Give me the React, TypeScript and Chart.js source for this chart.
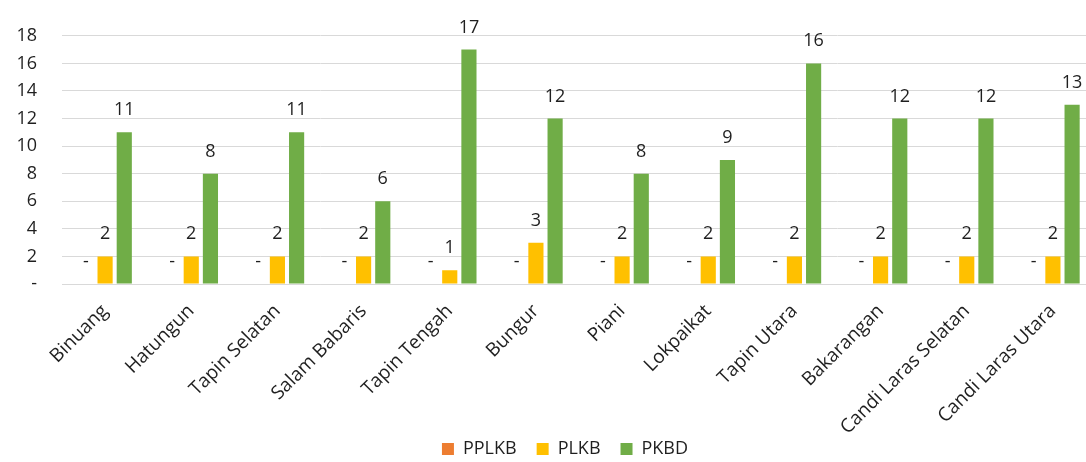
import React, { useEffect, useRef } from "react";
import { Chart, registerables } from "chart.js";

Chart.register(...registerables);

const categories = [
  "Binuang",
  "Hatungun",
  "Tapin Selatan",
  "Salam Babaris",
  "Tapin Tengah",
  "Bungur",
  "Piani",
  "Lokpaikat",
  "Tapin Utara",
  "Bakarangan",
  "Candi Laras Selatan",
  "Candi Laras Utara",
];
const pplkbValues = [0, 0, 0, 0, 0, 0, 0, 0, 0, 0, 0, 0];
const plkbValues = [2, 2, 2, 2, 1, 3, 2, 2, 2, 2, 2, 2];
const pkbdValues = [11, 8, 11, 6, 17, 12, 8, 9, 16, 12, 12, 13];
const yTickValues = [0, 2, 4, 6, 8, 10, 12, 14, 16, 18];

const FONT = "'Open Sans', 'DejaVu Sans', sans-serif";
const TEXT = "#1f1f1f";

const dataLabelPlugin = {
  id: "dataLabels",
  afterDatasetsDraw(chart: any) {
    const ctx = chart.ctx;
    ctx.save();
    ctx.font = `18px ${FONT}`;
    ctx.fillStyle = TEXT;
    ctx.textAlign = "center";
    ctx.textBaseline = "alphabetic";
    chart.data.datasets.forEach((ds: any, di: number) => {
      const meta = chart.getDatasetMeta(di);
      meta.data.forEach((el: any, i: number) => {
        const v = ds.data[i];
        const txt = v === 0 ? "-" : String(v);
        ctx.fillText(txt, el.x, el.y - 17);
      });
    });
    ctx.restore();
  },
};

// move the legend box to where it sits in the reference
const legendPlacePlugin = {
  id: "legendPlace",
  afterLayout(chart: any) {
    const lg = chart.legend;
    if (!lg) return;
    lg.top = 420;
    lg.bottom = 462;
    lg.height = 42;
    lg.left = 34;
  },
};

export default function App() {
  const ref = useRef<HTMLCanvasElement | null>(null);

  useEffect(() => {
    document.body.style.margin = "0";
    if (!ref.current) return;
    const chart = new Chart(ref.current, {
      type: "bar",
      data: {
        labels: categories,
        datasets: [
          { label: "PPLKB", data: pplkbValues, backgroundColor: "#ED7D31" },
          { label: "PLKB", data: plkbValues, backgroundColor: "#FFC000" },
          { label: "PKBD", data: pkbdValues, backgroundColor: "#70AD47" },
        ],
      },
      options: {
        animation: false,
        responsive: false,
        maintainAspectRatio: false,
        datasets: {
          bar: { categoryPercentage: 0.668, barPercentage: 0.79 },
        },
        layout: { padding: { top: 32, left: 0, right: 4, bottom: 0 } },
        plugins: {
          tooltip: { enabled: false },
          legend: {
            position: "bottom",
            maxHeight: 20,
            labels: {
              boxWidth: 12,
              boxHeight: 12,
              padding: 20,
              color: TEXT,
              font: { family: FONT, size: 18 },
            },
          },
        },
        scales: {
          x: {
            grid: { display: false, drawTicks: false },
            border: { color: "#d9d9d9", width: 1 },
            ticks: {
              autoSkip: false,
              minRotation: 45,
              maxRotation: 45,
              padding: 16,
              color: TEXT,
              font: { family: FONT, size: 19 },
            },
            afterFit(scale: any) {
              scale.height = 158;
            },
          },
          y: {
            min: 0,
            max: 18,
            afterBuildTicks(scale: any) {
              scale.ticks = yTickValues.map((v) => ({ value: v }));
            },
            grid: { color: "#d9d9d9", lineWidth: 1, drawTicks: false },
            border: { display: false },
            ticks: {
              padding: 25,
              color: TEXT,
              font: { family: FONT, size: 18 },
              callback: (v: any) => (Number(v) === 0 ? "-" : String(v)),
            },
            afterFit(scale: any) {
              scale.width = 62;
            },
          },
        },
      },
      plugins: [dataLabelPlugin, legendPlacePlugin],
    });
    return () => chart.destroy();
  }, []);

  return (
    <div style={{ width: 1086, height: 462, overflow: "hidden", position: "relative" }}>
      <canvas
        ref={ref}
        width={1100}
        height={462}
        style={{ width: 1100, height: 462, display: "block" }}
      />
    </div>
  );
}
